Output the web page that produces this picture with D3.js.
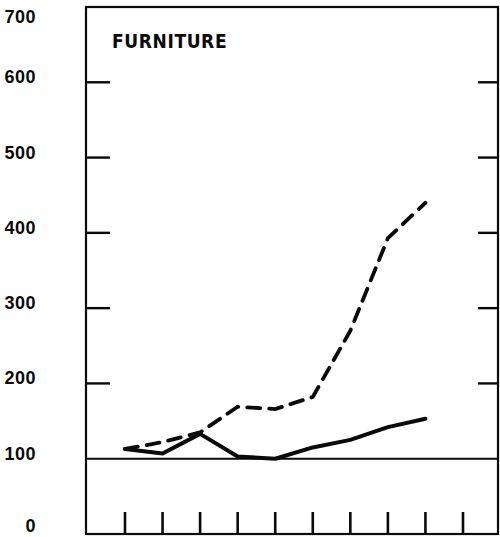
<!DOCTYPE html>
<html><head><meta charset="utf-8">
<script src="https://cdn.jsdelivr.net/npm/d3@7"></script>
<style>html,body{margin:0;padding:0;background:#fff;}svg{display:block;}</style>
</head><body>
<svg id="c" width="500" height="537"></svg>
<script>
const periods = [1,2,3,4,5,6,7,8,9];
const xTicks = [1,2,3,4,5,6,7,8,9,10];
const solidSeries = [113,107,133,103,100,115,125,142,153];
const dashedSeries = [113,122,135,169,166,182,270,393,440];
const yTickValues = [0,100,200,300,400,500,600,700];
const yTickLabels = ["0","100","200","300","400","500","600","700"];
const title = "FURNITURE";

const svg = d3.select("#c");
const x = d3.scaleLinear().domain([1,10]).range([125,463]);
const y = d3.scaleLinear().domain([0,700]).range([534,7]);
const L = 86, R = 498;
const ink = "#0a0a0a";

// frame
svg.append("rect").attr("x",L).attr("y",y(700)).attr("width",R-L).attr("height",y(0)-y(700))
  .attr("fill","none").attr("stroke",ink).attr("stroke-width",2.2);

// y ticks inside left/right
const inner = yTickValues.filter(v=>v>100 && v<700);
svg.selectAll(".lt").data(inner).join("line")
  .attr("x1",L).attr("x2",L+24).attr("y1",d=>y(d)).attr("y2",d=>y(d))
  .attr("stroke",ink).attr("stroke-width",2.4);
svg.selectAll(".rt").data(inner).join("line")
  .attr("x1",R-20).attr("x2",R).attr("y1",d=>y(d)).attr("y2",d=>y(d))
  .attr("stroke",ink).attr("stroke-width",2.4);
// 100 baseline
svg.append("line").attr("x1",L).attr("x2",R).attr("y1",y(100)).attr("y2",y(100))
  .attr("stroke",ink).attr("stroke-width",2);

// bottom ticks
svg.selectAll(".bt").data(xTicks).join("line")
  .attr("x1",d=>x(d)).attr("x2",d=>x(d)).attr("y1",y(0)).attr("y2",y(0)-22)
  .attr("stroke",ink).attr("stroke-width",2.6);

// y labels
svg.selectAll(".yl").data(yTickValues).join("text")
  .attr("x",36).attr("y",d=>Math.min(Math.max(y(d)+1, 23), 532))
  .attr("text-anchor","end")
  .attr("font-family","Liberation Sans, Arial, sans-serif").attr("font-weight","bold")
  .attr("font-size",18).attr("letter-spacing",0.5).attr("fill",ink)
  .text((d,i)=>yTickLabels[i]);

// title
svg.append("text").attr("x",112).attr("y",48)
  .attr("font-family","Liberation Sans Narrow, DejaVu Sans Condensed, sans-serif").attr("font-weight","bold")
  .attr("font-size",19).attr("letter-spacing",0.6).attr("fill",ink).text(title);

const line = d3.line().x((d,i)=>x(periods[i])).y(d=>y(d));
svg.append("path").datum(solidSeries).attr("d",line).attr("fill","none")
  .attr("stroke",ink).attr("stroke-width",4).attr("stroke-linejoin","round").attr("stroke-linecap","round");
svg.append("path").datum(dashedSeries).attr("d",line).attr("fill","none")
  .attr("stroke",ink).attr("stroke-width",3.8).attr("stroke-dasharray","13,9").attr("stroke-linecap","round");
</script>
</body></html>
